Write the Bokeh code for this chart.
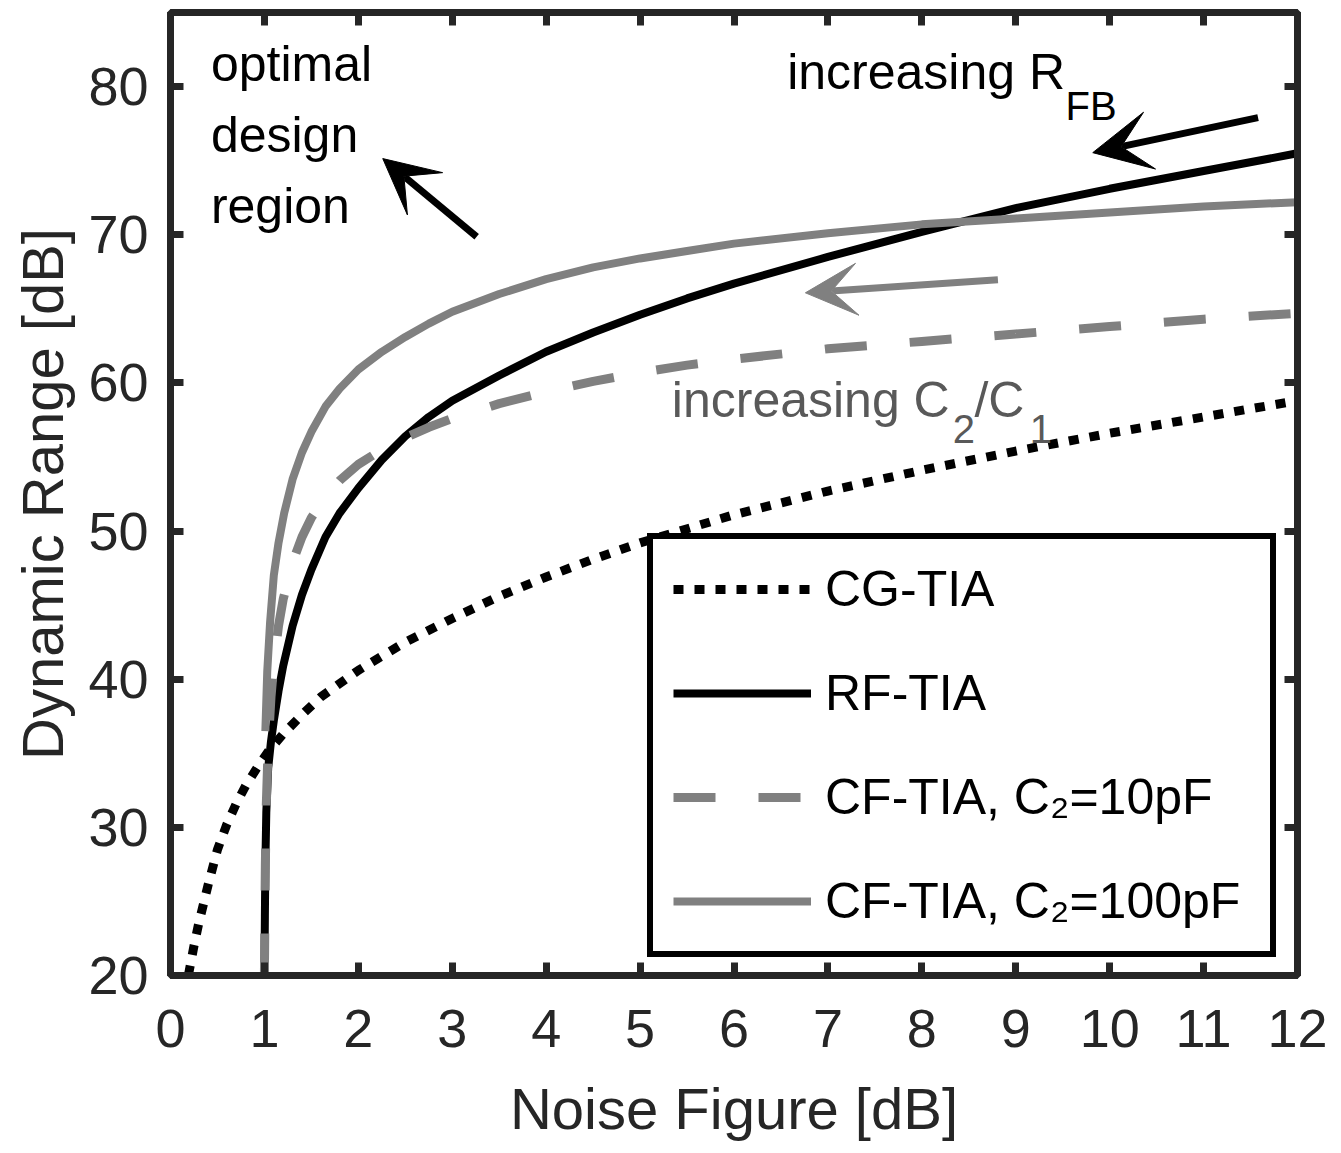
from bokeh.plotting import figure
from bokeh.models import (Range1d, FixedTicker, LinearAxis, Legend, LegendItem,
                          Label, Arrow, VeeHead, CustomJSTickFormatter)
from bokeh.embed import file_html
from bokeh.resources import INLINE

# ---------------- data ----------------
nf_cg = [0.19, 0.25, 0.3, 0.4, 0.5, 0.6, 0.7, 0.8, 0.93, 1.05, 1.2, 1.4, 1.6, 1.8,
         2.0, 2.5, 3.0, 3.5, 4.0, 4.5, 5.0, 6.0, 7.0, 8.0, 9.0, 10.0, 11.0, 12.0]
dr_cg = [20.0, 22.0, 23.5, 26.1, 28.5, 30.2, 31.6, 32.8, 34.1, 35.2, 36.3, 37.6,
         38.8, 39.7, 40.6, 42.5, 44.1, 45.6, 46.9, 48.1, 49.2, 51.1, 52.7, 54.1,
         55.4, 56.6, 57.7, 58.8]

nf_rf = [1.0, 1.005, 1.01, 1.02, 1.04, 1.07, 1.1, 1.15, 1.2, 1.3, 1.4, 1.5, 1.65,
         1.8, 2.0, 2.25, 2.5, 2.75, 3.0, 3.5, 4.0, 4.5, 5.0, 5.5, 6.0, 7.0, 8.0,
         9.0, 10.0, 11.0, 12.0]
dr_rf = [20.0, 24.0, 27.5, 31.0, 34.0, 35.8, 37.2, 39.2, 40.9, 43.6, 45.7, 47.4,
         49.6, 51.2, 52.9, 54.8, 56.4, 57.7, 58.8, 60.5, 62.1, 63.4, 64.6, 65.7,
         66.7, 68.5, 70.2, 71.8, 73.1, 74.3, 75.5]

nf_cf10 = [1.0, 1.005, 1.01, 1.02, 1.04, 1.07, 1.1, 1.15, 1.2, 1.3, 1.4, 1.5,
           1.65, 1.8, 2.0, 2.25, 2.5, 2.75, 3.0, 3.5, 4.0, 4.5, 5.0, 5.5, 6.0,
           7.0, 8.0, 9.0, 10.0, 11.0, 12.0]
dr_cf10 = [20.0, 24.0, 27.5, 31.5, 35.5, 38.8, 41.0, 43.6, 45.4, 47.9, 49.6, 50.9,
           52.3, 53.4, 54.5, 55.5, 56.3, 57.0, 57.6, 58.6, 59.4, 60.1, 60.7, 61.2,
           61.6, 62.3, 62.8, 63.3, 63.8, 64.3, 64.7]

nf_cf100 = [1.01, 1.03, 1.06, 1.1, 1.15, 1.21, 1.3, 1.4, 1.5, 1.65, 1.8, 2.0,
            2.25, 2.5, 2.75, 3.0, 3.5, 4.0, 4.5, 5.0, 5.5, 6.0, 7.0, 8.0, 9.0,
            10.0, 11.0, 12.0]
dr_cf100 = [36.5, 40.5, 43.8, 47.0, 49.2, 51.2, 53.5, 55.3, 56.7, 58.4, 59.6, 60.9,
            62.1, 63.1, 64.0, 64.8, 66.0, 67.0, 67.8, 68.4, 68.9, 69.4, 70.1, 70.7,
            71.1, 71.5, 71.9, 72.2]

x_ticks = list(range(0, 13))
y_ticks = [20, 30, 40, 50, 60, 70, 80]
series_labels = ["CG-TIA", "RF-TIA", "CF-TIA, C\u2082=10pF", "CF-TIA, C\u2082=100pF"]

FONT = "Liberation Sans"
AX = "#262626"
GRAY = "#808080"

p = figure(width=1341, height=1153, output_backend="svg", toolbar_location=None,
           x_range=Range1d(0, 12), y_range=Range1d(20, 85),
           min_border_left=170, min_border_right=44, min_border_top=12,
           min_border_bottom=178)
p.grid.visible = False
p.background_fill_color = "white"
p.border_fill_color = "white"
p.outline_line_color = AX
p.outline_line_width = 7


def style_axis(ax, labels=True):
    ax.axis_line_color = AX
    ax.axis_line_width = 7
    ax.major_tick_line_color = AX
    ax.major_tick_line_width = 7
    ax.major_tick_in = 13
    ax.major_tick_out = 0
    ax.minor_tick_line_color = None
    ax.major_label_text_font = FONT
    ax.major_label_text_color = AX
    ax.major_label_text_font_size = "54px"
    if not labels:
        ax.formatter = CustomJSTickFormatter(code="return ''")
        ax.major_label_text_font_size = "1px"
        ax.major_label_standoff = 0


p.xaxis.ticker = FixedTicker(ticks=x_ticks)
p.yaxis.ticker = FixedTicker(ticks=y_ticks)
style_axis(p.xaxis[0])
style_axis(p.yaxis[0])
p.xaxis.major_label_standoff = 34
p.yaxis.major_label_standoff = 22

p.xaxis.axis_label = "Noise Figure [dB]"
p.yaxis.axis_label = "Dynamic Range [dB]"
for ax in (p.xaxis[0], p.yaxis[0]):
    ax.axis_label_text_font = FONT
    ax.axis_label_text_font_size = "58px"
    ax.axis_label_text_font_style = "normal"
    ax.axis_label_text_color = AX
p.xaxis.axis_label_standoff = 26
p.yaxis.axis_label_standoff = 10

ax_r = LinearAxis(ticker=FixedTicker(ticks=y_ticks))
style_axis(ax_r, labels=False)
p.add_layout(ax_r, "right")
ax_t = LinearAxis(ticker=FixedTicker(ticks=x_ticks))
style_axis(ax_t, labels=False)
p.add_layout(ax_t, "above")

# ---------------- curves ----------------
r_cg = p.line(nf_cg, dr_cg, line_color="black", line_width=9, line_dash="10 11",
              line_cap="butt")
r_rf = p.line(nf_rf, dr_rf, line_color="black", line_width=8)
r_cf10 = p.line(nf_cf10, dr_cf10, line_color=GRAY, line_width=9, line_dash="42 43",
                line_cap="butt")
r_cf100 = p.line(nf_cf100, dr_cf100, line_color=GRAY, line_width=8)

legend = Legend(items=[LegendItem(label=series_labels[0], renderers=[r_cg]),
                       LegendItem(label=series_labels[1], renderers=[r_rf]),
                       LegendItem(label=series_labels[2], renderers=[r_cf10]),
                       LegendItem(label=series_labels[3], renderers=[r_cf100])],
                location=(477, 18))
legend.border_line_color = "black"
legend.border_line_alpha = 1.0
legend.border_line_width = 6
legend.background_fill_color = "white"
legend.background_fill_alpha = 1.0
legend.label_text_font = FONT
legend.label_text_font_size = "50px"
legend.label_text_color = "black"
legend.glyph_width = 138
legend.glyph_height = 60
legend.label_height = 60
legend.label_standoff = 14
legend.label_width = 425
legend.spacing = 44
legend.padding = 20
legend.margin = 0
p.add_layout(legend, "center")

# ---------------- annotations ----------------
TXT = dict(text_font=FONT, text_baseline="alphabetic", text_align="left")
for t, yy in zip(["optimal", "design", "region"], [81.55, 76.76, 71.96]):
    p.add_layout(Label(x=0.43, y=yy, text=t, text_font_size="50px",
                       text_color="black", **TXT))

p.add_layout(Label(x=6.566, y=81.0, text="increasing R", text_font_size="50px",
                   text_color="black", **TXT))
p.add_layout(Label(x=9.53, y=78.72, text="FB", text_font_size="40px",
                   text_color="black", **TXT))

CTXT = "#595959"
p.add_layout(Label(x=5.338, y=58.85, text="increasing C", text_font_size="50px",
                   text_color=CTXT, **TXT))
p.add_layout(Label(x=8.33, y=56.9, text="2", text_font_size="40px",
                   text_color=CTXT, **TXT))
p.add_layout(Label(x=8.56, y=58.85, text="/C", text_font_size="50px",
                   text_color=CTXT, **TXT))
p.add_layout(Label(x=9.15, y=56.9, text="1", text_font_size="40px",
                   text_color=CTXT, **TXT))

p.add_layout(Arrow(end=VeeHead(size=58, fill_color="black", line_color="black"),
                   x_start=11.58, y_start=77.9, x_end=9.82, y_end=75.54,
                   line_width=7, line_color="black"))
p.add_layout(Arrow(end=VeeHead(size=52, fill_color=GRAY, line_color=GRAY),
                   x_start=8.81, y_start=66.96, x_end=6.76, y_end=66.08,
                   line_width=7, line_color=GRAY))
p.add_layout(Arrow(end=VeeHead(size=55, fill_color="black", line_color="black"),
                   x_start=3.26, y_start=69.86, x_end=2.26, y_end=75.14,
                   line_width=7, line_color="black"))

open("out.html", "w").write(file_html(p, INLINE))
